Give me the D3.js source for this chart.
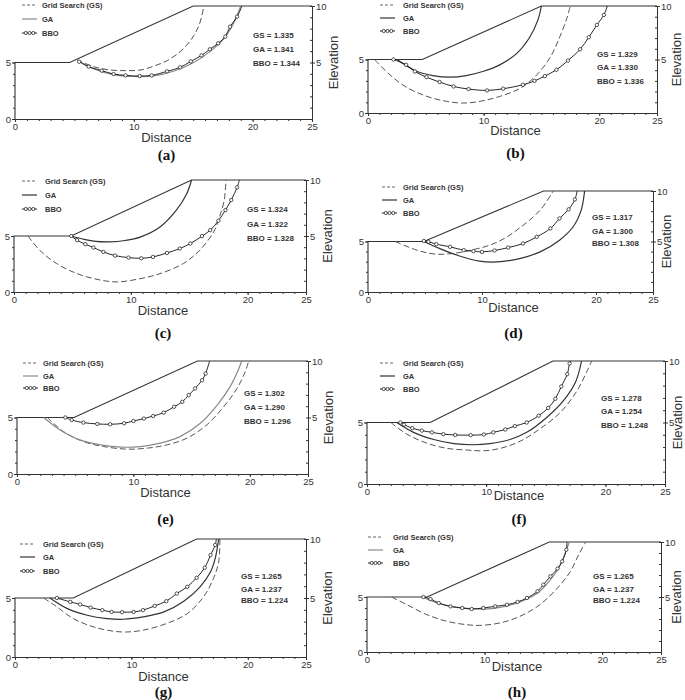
<!DOCTYPE html>
<html><head><meta charset="utf-8">
<script src="https://cdn.jsdelivr.net/npm/d3@7"></script>
<style>body{margin:0;background:#fff;} svg{display:block;}</style>
</head><body>
<svg id="c" width="685" height="700"></svg>
<script>
// ---------------- DATA ----------------
const panelLabels = ["(a)","(b)","(c)","(d)","(e)","(f)","(g)","(h)"];
const legendLabels = ["Grid Search (GS)","GA","BBO"];
const xTickLabels = [0,10,20,25];
const yRightLabels = [5,10];
const yLeftLabels = [0,5];
const gsFoS  = [1.335,1.329,1.324,1.317,1.302,1.278,1.265,1.265];
const gaFoS  = [1.341,1.330,1.322,1.300,1.290,1.254,1.237,1.237];
const bboFoS = [1.344,1.336,1.328,1.308,1.296,1.248,1.224,1.224];
const toeX   = [4.6,4.7,4.9,4.9,4.9,5.3,5.0,5.1];
const crestX = [15.0,15.0,15.2,15.4,15.5,15.6,15.6,15.5];
const groundLevel = 5, crestLevel = 10, xMax = 25;

const gsA = [[5.2,5.25],[6.6,4.63],[8.0,4.34],[9.4,4.28],[10.6,4.34],[11.7,4.69],[12.8,5.16],[13.9,5.96],[14.8,6.99],[15.5,8.32],[15.9,10]];
const gaA = [[5.3,5.2],[6.6,4.45],[8.3,3.93],[10.0,3.76],[11.7,3.82],[13.4,4.25],[15.0,4.97],[16.4,5.96],[17.6,7.14],[18.4,8.47],[19.0,10]];
const bboA = [[5.4,5.07],[6.2,4.63],[7.3,4.28],[8.3,3.98],[9.3,3.86],[10.5,3.8],[11.5,3.86],[12.8,4.22],[13.9,4.57],[14.8,5.1],[15.7,5.63],[16.4,6.17],[17.1,6.7],[17.7,7.29],[18.1,8.17],[18.7,9.06],[19.1,10]];

const gsB = [[0.6,4.95],[1.9,3.57],[3.3,2.42],[5.1,1.55],[6.8,1.09],[8.2,0.93],[9.7,1.09],[11.4,1.55],[13.2,2.33],[14.6,3.57],[15.8,5.28],[16.6,7.14],[17.2,8.85],[17.5,10]];
const gaB = [[2.5,5],[4.2,3.9],[5.6,3.5],[7.1,3.35],[8.5,3.5],[10.0,3.9],[11.4,4.5],[12.9,5.6],[14.0,7.1],[14.7,8.7],[15.0,10]];
const bboB = [[2.2,5],[3.3,4.5],[4.05,3.88],[5.06,3.35],[6.2,2.89],[7.4,2.48],[8.7,2.24],[10.3,2.11],[11.7,2.27],[13.4,2.64],[14.4,3.0],[15.3,3.45],[16.3,4.04],[17.3,4.9],[18.35,5.96],[19.1,7.08],[19.8,8.23],[20.4,9.16],[20.7,10]];

const gsC = [[1.2,5],[2.2,3.73],[3.65,2.54],[5.4,1.64],[7.1,1.13],[8.8,0.9],[10.8,1.19],[12.5,1.64],[14.5,2.54],[15.9,3.73],[17.1,5.37],[17.6,6.72],[18.0,8.21],[18.15,10]];
const gaC = [[4.9,5],[6.0,4.7],[7.0,4.52],[8.2,4.48],[9.5,4.6],[10.8,4.9],[12.5,5.8],[13.9,7.3],[14.8,8.8],[15.2,10]];
const bboC = [[4.9,5],[5.4,4.63],[6.1,4.27],[6.8,3.97],[7.65,3.58],[8.65,3.25],[9.8,3.07],[10.9,3.01],[11.9,3.13],[13.1,3.49],[14.2,3.88],[15.1,4.33],[16.1,4.99],[16.8,5.52],[17.5,6.36],[18.1,7.31],[18.6,8.21],[19.1,9.34],[19.3,10]];

const gsD = [[2.4,5],[4.3,4.14],[6.0,3.74],[7.8,3.87],[9.25,4.2],[10.7,4.64],[12.2,5.46],[13.6,6.6],[15.1,8.1],[16.25,10]];
const gaD = [[4.9,5],[6.3,4.3],[8.1,3.54],[9.8,3.05],[11.3,2.98],[13.3,3.31],[15.1,3.97],[16.8,5.13],[18.0,6.46],[18.7,8.1],[19.0,10]];
const bboD = [[4.9,5.05],[5.3,4.97],[6.0,4.74],[7.2,4.47],[8.4,4.14],[9.25,4.04],[10.0,3.97],[11.1,4.11],[12.3,4.4],[13.6,4.8],[14.8,5.46],[16.0,6.29],[16.8,7.28],[17.6,8.18],[18.15,9.17],[18.35,10]];

const gsE = [[2.6,5],[4.0,3.75],[5.7,2.87],[7.45,2.43],[9.45,2.2],[11.2,2.29],[12.9,2.58],[14.6,3.17],[16.3,4.34],[17.75,5.95],[18.9,7.57],[19.6,9.03],[19.9,10]];
const gaE = [[2.3,5],[3.7,3.9],[5.4,3.02],[7.2,2.58],[8.9,2.38],[10.6,2.43],[12.3,2.73],[14.0,3.31],[15.75,4.49],[17.2,6.1],[18.3,7.71],[19.0,9.18],[19.3,10]];
const bboE = [[4.15,5],[4.7,4.78],[5.7,4.55],[6.9,4.43],[8.0,4.4],[9.2,4.49],[10.0,4.69],[10.9,4.9],[11.7,5.13],[12.6,5.43],[13.5,5.95],[14.2,6.39],[14.75,6.98],[15.3,7.57],[15.9,8.3],[16.2,8.89],[16.55,10]];

const gsF = [[2.0,5],[3.35,4.05],[5.0,3.33],[6.7,2.9],[8.4,2.76],[9.8,2.7],[11.2,2.9],[12.85,3.48],[14.5,4.48],[16.2,5.8],[17.6,7.55],[18.4,9.05],[18.85,10]];
const gaF = [[2.5,5],[3.9,4.2],[5.6,3.62],[7.3,3.28],[8.9,3.19],[10.3,3.28],[12.0,3.62],[13.4,4.2],[15.1,5.43],[16.5,6.8],[17.5,8.3],[18.0,10]];
const bboF = [[2.8,5],[3.1,4.83],[3.8,4.54],[4.6,4.34],[5.45,4.2],[6.4,4.05],[7.4,3.99],[8.7,3.97],[9.8,4.02],[10.6,4.2],[11.6,4.43],[12.4,4.71],[13.4,5.0],[14.4,5.55],[15.2,6.18],[15.8,6.93],[16.3,7.93],[16.8,8.93],[17.0,9.8],[17.1,10]];

const gsG = [[2.46,5],[3.6,4.25],[5.0,3.26],[6.75,2.55],[8.5,2.18],[9.6,2.12],[11.0,2.27],[13.0,2.83],[14.8,3.68],[16.2,5.1],[17.05,6.66],[17.5,8.07],[17.6,10]];
const gaG = [[3.0,5],[4.5,4.1],[6.2,3.54],[7.9,3.26],[9.3,3.2],[11.0,3.4],[12.8,3.82],[14.5,4.73],[15.9,5.95],[16.8,7.22],[17.2,8.36],[17.5,10]];
const bboG = [[3.6,5],[4.75,4.67],[5.6,4.45],[6.5,4.19],[7.5,3.97],[8.3,3.82],[9.2,3.8],[10.2,3.82],[11.0,3.97],[12.0,4.33],[13.0,4.73],[13.9,5.38],[14.8,5.95],[15.6,6.71],[16.3,7.56],[16.8,8.64],[17.2,9.49],[17.3,10]];

const gsH = [[2.1,5],[3.4,4.3],[5.1,3.39],[6.8,2.79],[8.5,2.48],[9.6,2.42],[11.3,2.64],[13.0,3.24],[14.7,4.3],[16.2,5.82],[17.3,7.33],[18.0,8.85],[18.6,10]];
const gaH = [[4.7,5],[5.7,4.55],[7.1,4.15],[8.8,3.94],[9.9,3.9],[11.3,4.06],[13.0,4.55],[14.5,5.36],[15.6,6.58],[16.3,7.64],[16.8,8.85],[17.2,10]];
const bboH = [[4.8,5.0],[5.4,4.82],[6.1,4.45],[7.1,4.15],[8.1,4.0],[8.9,3.91],[9.9,4.0],[10.9,4.15],[11.9,4.3],[12.8,4.55],[13.6,4.91],[14.5,5.52],[15.0,6.12],[15.6,6.88],[16.2,7.58],[16.6,8.24],[16.95,9.3],[17.0,10]];

const gsSeries  = [gsA,gsB,gsC,gsD,gsE,gsF,gsG,gsH];
const gaSeries  = [gaA,gaB,gaC,gaD,gaE,gaF,gaG,gaH];
const bboSeries = [bboA,bboB,bboC,bboD,bboE,bboF,bboG,bboH];

// ---------------- LAYOUT / STYLE ----------------
const layout = [
  {x0:15, x1:312, yT:6,   yB:119, lgL:22,  lgT:42,  lgY:[5,19,33],    vX:253, vY:[35,49,63],    dY:137, pY:155, eX:333},
  {x0:368,x1:657, yT:6,   yB:113, lgL:380, lgT:403, lgY:[5,18,31],    vX:597, vY:[54,67,81],    dY:130, pY:153, eX:676},
  {x0:14, x1:306, yT:180, yB:292, lgL:22,  lgT:45,  lgY:[181,195,209],vX:247, vY:[209,224,238], dY:310, pY:333, eX:327},
  {x0:368,x1:653, yT:191, yB:292, lgL:382, lgT:403, lgY:[187,200,213],vX:592, vY:[217,231,243], dY:307, pY:333, eX:666},
  {x0:17, x1:308, yT:361, yB:474, lgL:23,  lgT:43,  lgY:[363,376,388],vX:244, vY:[393,407,421], dY:492, pY:519, eX:328},
  {x0:367,x1:665, yT:361, yB:484, lgL:380, lgT:403, lgY:[363,376,389],vX:601, vY:[398,411,425], dY:495, pY:519, eX:677},
  {x0:15, x1:306, yT:539, yB:657, lgL:20,  lgT:43,  lgY:[544,557,571],vX:241, vY:[576,589,600], dY:676, pY:692, eX:327},
  {x0:367,x1:661, yT:542, yB:652, lgL:368, lgT:393, lgY:[537,550,563],vX:593, vY:[576,589,600], dY:666, pY:692, eX:676}
];
const gaColor = ["#8a8a8a","#333","#333","#333","#8a8a8a","#333","#333","#8a8a8a"];
const FONT = "'Liberation Sans', Arial, sans-serif";

const svg = d3.select("#c");

panelLabels.forEach((lab, i) => {
  const L = layout[i];
  const x = d3.scaleLinear().domain([0, xMax]).range([L.x0, L.x1]);
  const y = d3.scaleLinear().domain([0, 10]).range([L.yB, L.yT]);
  const g = svg.append("g");
  const line = d3.line().x(d => x(d[0])).y(d => y(d[1])).curve(d3.curveCatmullRom.alpha(0.5));

  // ground profile
  const ground = [[0,0],[0,groundLevel],[toeX[i],groundLevel],[crestX[i],crestLevel],[xMax,crestLevel]];
  g.append("path").attr("d", d3.line().x(d=>x(d[0])).y(d=>y(d[1]))(ground))
    .attr("fill","none").attr("stroke","#333").attr("stroke-width",1.1);

  // bottom axis
  const ax = g.append("g").attr("transform",`translate(0,${L.yB})`)
    .call(d3.axisBottom(x).tickValues(d3.range(0, xMax+1, 1)).tickSize(2).tickSizeOuter(0).tickFormat(""));
  const ax2 = g.append("g").attr("transform",`translate(0,${L.yB})`)
    .call(d3.axisBottom(x).tickValues(xTickLabels).tickSize(3).tickSizeOuter(0).tickFormat(d3.format("d")));
  // right axis
  const ar = g.append("g").attr("transform",`translate(${L.x1},0)`)
    .call(d3.axisLeft(y).tickValues(d3.range(0, 11, 1)).tickSize(2).tickSizeOuter(0).tickFormat(""));
  const ar2 = g.append("g").attr("transform",`translate(${L.x1},0)`)
    .call(d3.axisRight(y).tickValues(yRightLabels).tickSize(3).tickSizeOuter(0).tickFormat(d3.format("d")));
  // left axis (ground part only)
  const al = g.append("g").attr("transform",`translate(${L.x0},0)`)
    .call(d3.axisLeft(y).tickValues(d3.range(0, 6, 1)).tickSize(2).tickSizeOuter(0).tickFormat(""));
  const al2 = g.append("g").attr("transform",`translate(${L.x0},0)`)
    .call(d3.axisLeft(y).tickValues(yLeftLabels).tickSize(3).tickSizeOuter(0).tickFormat(d3.format("d")));
  al.select(".domain").remove(); al2.select(".domain").remove();
  [ax,ax2,ar,ar2,al,al2].forEach(a => {
    a.selectAll("path,line").attr("stroke","#333");
    a.selectAll("text").attr("font-family",FONT).attr("font-size","9.5px").attr("fill","#333");
  });
  ax2.selectAll("text").attr("dy","0.55em");
  ar2.selectAll("text").attr("x",4);
  al2.selectAll("text").attr("x",-4);

  // curves
  g.append("path").attr("d", line(gsSeries[i])).attr("fill","none")
    .attr("stroke","#555").attr("stroke-width",1).attr("stroke-dasharray","6,3");
  g.append("path").attr("d", line(gaSeries[i])).attr("fill","none")
    .attr("stroke",gaColor[i]).attr("stroke-width",1.2);
  g.append("path").attr("d", line(bboSeries[i])).attr("fill","none")
    .attr("stroke","#111").attr("stroke-width",0.9);
  g.selectAll("circle.bbo").data(bboSeries[i].slice(0,-1)).enter().append("circle")
    .attr("cx", d=>x(d[0])).attr("cy", d=>y(d[1])).attr("r",1.7)
    .attr("fill","#fff").attr("stroke","#111").attr("stroke-width",0.7);

  // legend
  const lw = 15;
  legendLabels.forEach((t, k) => {
    const yy = L.lgY[k];
    const ln = g.append("line").attr("x1",L.lgL).attr("x2",L.lgL+lw).attr("y1",yy).attr("y2",yy)
      .attr("stroke", k===0 ? "#555" : (k===1 ? gaColor[i] : "#111")).attr("stroke-width", k===1?1.2:0.9);
    if (k===0) ln.attr("stroke-dasharray","3,2");
    if (k===2) {
      [0.25,0.5,0.75].forEach(f => g.append("circle").attr("cx",L.lgL+lw*f).attr("cy",yy).attr("r",1.6)
        .attr("fill","#fff").attr("stroke","#111").attr("stroke-width",0.7));
    }
    g.append("text").attr("x",L.lgT).attr("y",yy).attr("dy","0.35em").text(t)
      .attr("font-family",FONT).attr("font-size","7.5px").attr("font-weight","bold").attr("fill","#333");
  });

  // FoS values
  const vals = [["GS", gsFoS[i]],["GA", gaFoS[i]],["BBO", bboFoS[i]]];
  vals.forEach((v,k) => {
    g.append("text").attr("x",L.vX).attr("y",L.vY[k]).attr("dy","0.35em")
      .text(`${v[0]} = ${d3.format(".3f")(v[1])}`)
      .attr("font-family",FONT).attr("font-size","8px").attr("font-weight","bold").attr("fill","#333");
  });

  // axis titles
  const mid = (L.x0 + L.x1)/2 + 3;
  g.append("text").attr("x",mid).attr("y",L.dY).attr("dy","0.35em").attr("text-anchor","middle")
    .text("Distance").attr("font-family",FONT).attr("font-size","13px").attr("fill","#333");
  g.append("text").attr("transform",`translate(${L.eX},${(L.yT+L.yB)/2}) rotate(-90)`)
    .attr("dy","0.35em").attr("text-anchor","middle")
    .text("Elevation").attr("font-family",FONT).attr("font-size","13px").attr("fill","#333");
  g.append("text").attr("x",mid).attr("y",L.pY).attr("dy","0.35em").attr("text-anchor","middle")
    .text(lab).attr("font-family","'Liberation Serif','Times New Roman',serif")
    .attr("font-size","15px").attr("font-weight","bold").attr("fill","#111");
});
</script></body></html>
